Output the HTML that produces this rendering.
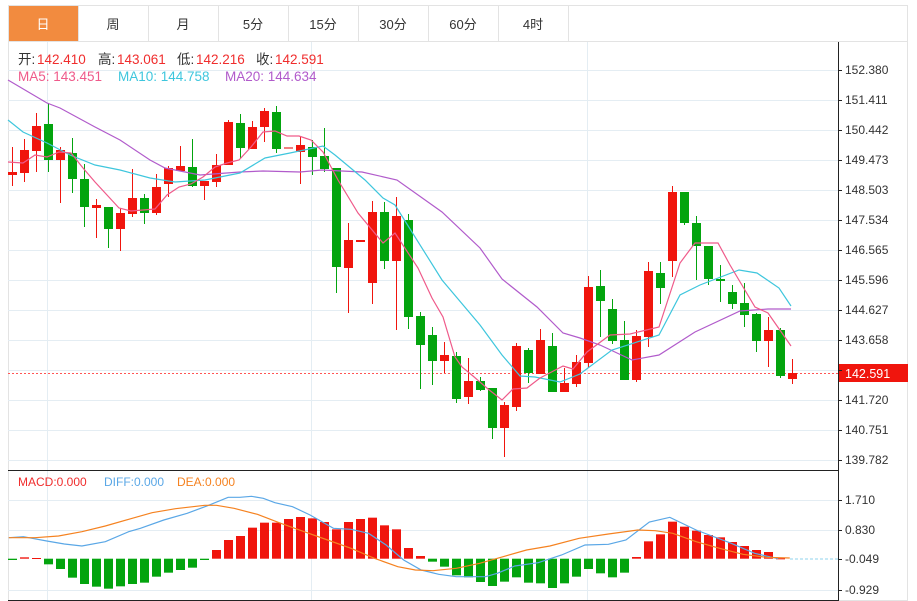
<!DOCTYPE html>
<html><head><meta charset="utf-8"><style>
body{margin:0;background:#fff;width:917px;height:601px;overflow:hidden;font-family:"Liberation Sans","Noto Sans CJK SC",sans-serif}
svg{position:absolute;left:0;top:0}
</style></head><body>
<svg id="s" width="917" height="601" xmlns="http://www.w3.org/2000/svg" font-family="Liberation Sans, Noto Sans CJK SC, sans-serif">
<rect x="8.5" y="5.5" width="899" height="595" fill="none" stroke="#e3e3e3"/>
<line x1="8" y1="41.5" x2="908" y2="41.5" stroke="#e3e3e3"/>
<rect x="9" y="6" width="69" height="35" fill="#f28b3f"/>
<g fill="#333" font-size="13" text-anchor="middle">
<text x="43" y="29" fill="#fff">日</text><text x="113" y="29">周</text><text x="183" y="29">月</text><text x="253" y="29">5分</text><text x="323" y="29">15分</text><text x="393" y="29">30分</text><text x="463" y="29">60分</text><text x="533" y="29">4时</text>
</g>
<g stroke="#e3e3e3"><line x1="78.5" y1="6" x2="78.5" y2="41"/><line x1="148.5" y1="6" x2="148.5" y2="41"/><line x1="218.5" y1="6" x2="218.5" y2="41"/><line x1="288.5" y1="6" x2="288.5" y2="41"/><line x1="358.5" y1="6" x2="358.5" y2="41"/><line x1="428.5" y1="6" x2="428.5" y2="41"/><line x1="498.5" y1="6" x2="498.5" y2="41"/><line x1="568.5" y1="6" x2="568.5" y2="41"/></g>
<g id="grid" stroke="#e4edf3"></g>
<g id="main"></g>
<g font-size="13.5">
<text x="18" y="64" fill="#333">开:</text><text x="37" y="64" fill="#f02d2d">142.410</text>
<text x="98" y="64" fill="#333">高:</text><text x="117" y="64" fill="#f02d2d">143.061</text>
<text x="177" y="64" fill="#333">低:</text><text x="196" y="64" fill="#f02d2d">142.216</text>
<text x="256" y="64" fill="#333">收:</text><text x="275" y="64" fill="#f02d2d">142.591</text>
<text x="18" y="81" fill="#ef5a8a">MA5: 143.451</text><text x="118" y="81" fill="#3ec6dd">MA10: 144.758</text><text x="225" y="81" fill="#b15bcb">MA20: 144.634</text>
</g>
<g font-size="12">
<text x="18" y="486" fill="#f02d2d">MACD:0.000</text><text x="104" y="486" fill="#5aa7e6">DIFF:0.000</text><text x="177" y="486" fill="#f58220">DEA:0.000</text>
</g>
<g fill="#333" font-size="12">
<text x="845" y="74">152.380</text><text x="845" y="104">151.411</text><text x="845" y="134">150.442</text><text x="845" y="164">149.473</text><text x="845" y="194">148.503</text><text x="845" y="224">147.534</text><text x="845" y="254">146.565</text><text x="845" y="284">145.596</text><text x="845" y="314">144.627</text><text x="845" y="344">143.658</text><text x="845" y="404">141.720</text><text x="845" y="434">140.751</text><text x="845" y="464">139.782</text>
<text x="845" y="504">1.710</text><text x="845" y="534">0.830</text><text x="845" y="563">-0.049</text><text x="845" y="594">-0.929</text>
</g>
<rect x="838" y="364" width="70" height="18" fill="#f0150d"/>
<text x="845" y="378" fill="#fff" font-size="12.5">142.591</text>
<line x1="838.5" y1="42" x2="838.5" y2="601" stroke="#222"/>
<line x1="8" y1="470.5" x2="838" y2="470.5" stroke="#222"/>
<line x1="8" y1="600.5" x2="838" y2="600.5" stroke="#222"/>
</svg>
<script>
var NS="http://www.w3.org/2000/svg";
function el(p,t,a){var e=document.createElementNS(NS,t);for(var k in a)e.setAttribute(k,a[k]);p.appendChild(e);return e;}
var g=document.getElementById('grid'),m=document.getElementById('main');
[70,100,130,160,190,220,250,280,310,340,370,400,430,460,500,530,590].forEach(function(y){el(g,'line',{x1:8,x2:838,y1:y+.5,y2:y+.5});});
[47,311,587].forEach(function(x){el(g,'line',{x1:x+.5,x2:x+.5,y1:42,y2:600});});
var s=document.getElementById('s');
[70,100,130,160,190,220,250,280,310,340,370,400,430,460,500,530,559,590].forEach(function(y){el(s,'line',{x1:838,x2:842,y1:y+.5,y2:y+.5,stroke:'#222'});});
el(m,'line',{x1:8,x2:838,y1:373.5,y2:373.5,stroke:'#f55',"stroke-dasharray":"2,2"});
var C=[[172,175,147,186,'r'],[150,173,139,182,'r'],[126,151,113,172,'r'],[124,160,103,172,'g'],[150,160,147,203,'r'],[153,179,138,193,'g'],[179,207,164,227,'g'],[205,208,199,238,'r'],[207,229,207,248,'g'],[213,229,208,251,'r'],[198,214,169,217,'r'],[198,213,194,224,'g'],[187,213,174,215,'r'],[168,184,166,197,'r'],[166,171,146,171,'r'],[167,186,139,187,'g'],[181,186,181,200,'r'],[165,182,154,187,'r'],[122,165,120,165,'r'],[123,148,114,158,'g'],[127,149,121,149,'r'],[111,127,108,142,'r'],[112,149,106,153,'g'],[147,149,147,149,'p'],[145,152,136,184,'r'],[147,157,140,175,'g'],[156,169,128,172,'g'],[168,267,168,293,'g'],[240,268,223,313,'r'],[240,242,240,242,'r'],[212,283,201,304,'r'],[212,261,202,269,'g'],[216,261,197,330,'r'],[220,317,214,329,'g'],[316,345,312,389,'g'],[335,361,327,385,'g'],[355,361,342,373,'r'],[356,399,352,403,'g'],[381,397,358,404,'r'],[381,390,377,391,'g'],[388,428,388,439,'g'],[405,428,402,457,'r'],[346,407,343,411,'r'],[350,373,348,383,'g'],[340,374,329,374,'r'],[346,392,333,392,'g'],[383,392,368,392,'r'],[362,384,355,387,'r'],[287,363,276,368,'r'],[286,301,270,337,'g'],[309,341,299,344,'g'],[340,380,321,380,'g'],[336,380,330,382,'r'],[271,337,262,347,'r'],[273,288,262,304,'g'],[192,261,186,277,'r'],[192,223,192,225,'g'],[223,246,216,280,'g'],[246,279,246,285,'g'],[279,280,265,302,'g'],[292,304,285,309,'g'],[303,315,283,327,'g'],[314,341,313,352,'g'],[330,341,317,367,'r'],[330,376,328,378,'g'],[373,379,359,384,'r']];
var col={r:'#f0150d',g:'#03a40e',p:'#f08080'};
C.forEach(function(c,i){var x=12+12*i,f=col[c[4]];
el(m,'line',{x1:x+.5,x2:x+.5,y1:c[2],y2:c[3],stroke:f});
el(m,'rect',{x:x-4,y:c[0],width:9,height:Math.max(2,c[1]-c[0]),fill:f});});
function pl(p,pts,color){el(p,'polyline',{points:pts.map(function(a){return a.join(',')}).join(' '),fill:'none',stroke:color,"stroke-width":1.2});}
pl(m,[[8,80],[47,103],[60,108],[95,127],[120,140],[150,160],[165,168],[200,175],[240,172],[263,171],[300,172],[322,170],[362,172],[397,180],[442,212],[480,248],[502,279],[537,307],[563,333],[580,338],[600,345],[632,360],[659,355],[695,332],[740,311],[768,309],[791,309]],'#b15bcb');
pl(m,[[8,120],[23,132],[47,143],[70,155],[95,165],[120,170],[150,178],[175,182],[205,180],[240,173],[265,158],[290,153],[323,146],[335,155],[365,180],[383,198],[395,205],[442,280],[480,325],[502,355],[520,376],[535,377],[560,382],[580,374],[612,350],[659,335],[680,295],[700,285],[739,270],[757,273],[779,288],[791,306]],'#3ec6dd');
pl(m,[[8,162],[23,163],[35,155],[47,157],[59,152],[71,153],[83,168],[95,182],[119,208],[131,211],[155,209],[167,195],[179,187],[191,184],[203,177],[215,167],[227,163],[239,160],[251,147],[263,132],[275,131],[287,136],[299,136],[311,140],[323,152],[338,180],[358,213],[383,243],[395,233],[418,268],[432,298],[443,317],[455,357],[462,367],[473,376],[488,389],[502,400],[513,389],[527,388],[540,378],[563,366],[573,369],[587,352],[610,335],[630,334],[659,327],[680,263],[695,243],[718,243],[730,265],[755,307],[768,313],[791,346]],'#ef5a8a');
var z=558.7,H=[300,292,294,313,327,353,372,380,386,379,372,368,350,338,330,323,300,270,240,228,203,188,188,177,171,175,186,208,186,177,173,196,208,264,288,305,320,346,352,366,378,365,352,368,370,384,370,350,327,340,352,338,291,244,223,185,200,212,225,232,246,258,270,276,295];
H.forEach(function(p,i){var y=460+p/3,x=12+12*i;var up=y<z;el(m,'rect',{x:x-4,y:Math.min(y,z),width:9,height:Math.max(1,Math.abs(y-z)),fill:up?'#f0150d':'#03a40e'});});
el(m,'line',{x1:790,x2:838,y1:559,y2:559,stroke:'#8fd3ee',"stroke-dasharray":"3,2"});
function cv(a){return a.map(function(p){return [p[0]*0.585,460+p[1]/3];});}
pl(m,cv([[15,233],[40,230],[80,243],[110,252],[140,258],[180,245],[220,215],[240,205],[280,180],[320,160],[355,137],[390,112],[410,112],[430,109],[450,115],[470,128],[500,140],[530,165],[570,205],[600,208],[630,220],[660,255],[690,300],[720,330],[750,343],[780,350],[830,350],[850,340],[880,318],[920,308],[960,285],[1000,255],[1040,253],[1070,240],[1110,186],[1145,172],[1190,210],[1250,250],[1290,280],[1330,296]]),'#5aa7e6');
pl(m,cv([[15,233],[60,233],[100,228],[140,215],[180,198],[220,178],[260,158],[300,146],[350,136],[370,136],[400,145],[440,163],[480,190],[520,215],[560,240],[600,265],[640,295],[680,320],[710,330],[740,332],[780,325],[820,310],[860,290],[900,270],[940,258],[990,235],[1040,222],[1090,210],[1120,212],[1150,220],[1190,245],[1230,265],[1270,283],[1310,292],[1350,294]]),'#f58220');
</script>
</body></html>
